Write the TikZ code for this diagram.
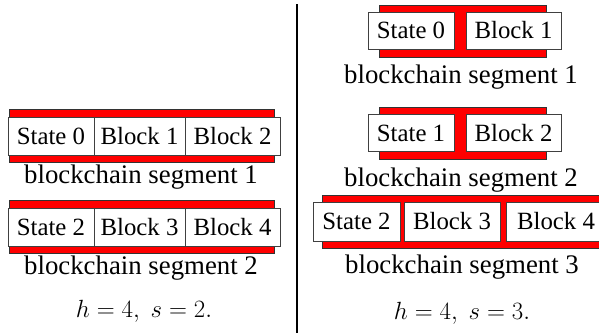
\documentclass[tikz,border=0pt]{standalone}
\usepackage{fontspec}
\setmainfont{Liberation Serif}
\usepackage{tikz}
\usetikzlibrary{positioning}
\tikzset{
  blk/.style={draw=black!75,line width=1pt,fill=white,inner sep=0pt,minimum height=38pt,font=\fontsize{24.8}{30}\selectfont},
  bar/.style={fill=red,draw=black!80,line width=0.8pt},
  seglabel/.style={inner sep=0pt}
}
\begin{document}
\begin{tikzpicture}[x=1pt,y=-1pt,font=\fontsize{26.8}{32}\selectfont]
\useasboundingbox (0,0) rectangle (599,332);
\clip (0,0) rectangle (599,332);
% left: h=4, s=2
\draw[bar] (9,109) rectangle (274,162);
\node[blk,minimum width=86pt] (ls0) at (51,136) {State 0};
\node[blk,minimum width=91pt] (lb1) at (139.5,136) {Block 1};
\node[blk,minimum width=95pt] (lb2) at (232.5,136) {Block 2};
\node[seglabel] (lseg1) at (141,177) {blockchain segment 1};
\draw[bar] (9,200) rectangle (274,253);
\node[blk,minimum width=86pt] (ls2) at (51,227) {State 2};
\node[blk,minimum width=91pt] (lb3) at (139.5,227) {Block 3};
\node[blk,minimum width=95pt] (lb4) at (232.5,227) {Block 4};
\node[seglabel] (lseg2) at (141,268) {blockchain segment 2};
\node[seglabel] (lparam) at (144,311) {$h=4,\ s=2.$};
% separator
\coordinate (septop) at (297,4);
\coordinate (sepbot) at (297,334);
\draw[line width=2pt] (septop) -- (sepbot);
% right: h=4, s=3
\draw[bar] (379,5) rectangle (546,57);
\node[blk,minimum width=86pt,minimum height=37pt] (rs0) at (411,30.5) {State 0};
\node[blk,minimum width=95pt,minimum height=37pt] (rb1) at (513.5,30.5) {Block 1};
\node[seglabel] (rseg1) at (461,77) {blockchain segment 1};
\draw[bar] (379,107) rectangle (546,159);
\node[blk,minimum width=86pt,minimum height=37pt] (rs1) at (411,133) {State 1};
\node[blk,minimum width=95pt,minimum height=37pt] (rb2) at (513.5,133) {Block 2};
\node[seglabel] (rseg2) at (461,180) {blockchain segment 2};
\draw[bar] (322,195) rectangle (605,248);
\node[blk,minimum width=87pt,minimum height=39pt] (rs2) at (356.5,221.5) {State 2};
\node[blk,minimum width=96pt,minimum height=39pt] (rb3) at (452,221.5) {Block 3};
\node[blk,minimum width=100pt,minimum height=39pt] (rb4) at (556,221.5) {Block 4};
\node[seglabel] (rseg3) at (462,267) {blockchain segment 3};
\node[seglabel] (rparam) at (462,313) {$h=4,\ s=3.$};
\end{tikzpicture}
\end{document}
